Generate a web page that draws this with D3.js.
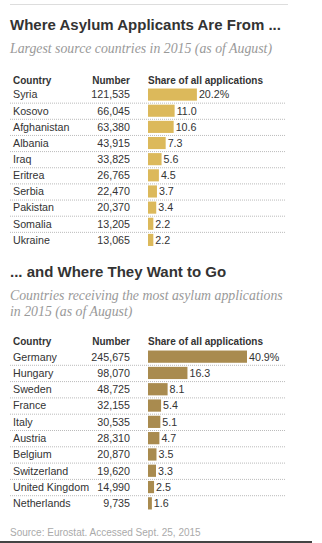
<!DOCTYPE html>
<html>
<head>
<meta charset="utf-8">
<script src="https://d3js.org/d3.v7.min.js"></script>
<style>
  body { margin: 0; background: #fff; }
  svg text { font-family: "Liberation Sans", Arial, sans-serif; }
  .title { font-weight: bold; font-size: 15px; fill: #333; }
  .sub { font-family: "Liberation Serif", Georgia, serif !important; font-style: italic; font-size: 13.8px; fill: #999; }
  .hdr { font-weight: bold; font-size: 10px; fill: #333; }
  .row { font-size: 10.7px; fill: #333; }
  .src { font-size: 10px; fill: #aaa; }
</style>
</head>
<body>
<div id="chart"></div>
<script>
// source countries
var fromCountries = ["Syria", "Kosovo", "Afghanistan", "Albania", "Iraq", "Eritrea", "Serbia", "Pakistan", "Somalia", "Ukraine"];
var fromNumbers = [121535, 66045, 63380, 43915, 33825, 26765, 22470, 20370, 13205, 13065];
var fromShares = [20.2, 11.0, 10.6, 7.3, 5.6, 4.5, 3.7, 3.4, 2.2, 2.2];

// destination countries
var toCountries = ["Germany", "Hungary", "Sweden", "France", "Italy", "Austria", "Belgium", "Switzerland", "United Kingdom", "Netherlands"];
var toNumbers = [245675, 98070, 48725, 32155, 30535, 28310, 20870, 19620, 14990, 9735];
var toShares = [40.9, 16.3, 8.1, 5.4, 5.1, 4.7, 3.5, 3.3, 2.5, 1.6];

var W = 322, H = 543;
var svg = d3.select("#chart").append("svg").attr("width", W).attr("height", H);

// shared bar scale, 40.9% -> ~99px
var x = d3.scaleLinear().domain([0, 40.9]).range([148, 247]);
var fmt = d3.format(",");

svg.append("line").attr("x1", 10).attr("x2", 288).attr("y1", 4.5).attr("y2", 4.5)
  .attr("stroke", "#ddd").attr("stroke-width", 1);

function table(opts) {
  var g = svg.append("g");
  g.append("text").attr("class", "title").attr("x", 10).attr("y", opts.titleY).text(opts.title);
  opts.sub.forEach(function(s, i) {
    g.append("text").attr("class", "sub").attr("x", 10).attr("y", opts.subY + i * 16).text(s);
  });
  g.append("text").attr("class", "hdr").attr("x", 13).attr("y", opts.hdrY).text("Country");
  g.append("text").attr("class", "hdr").attr("x", 130).attr("y", opts.hdrY).attr("text-anchor", "end").text("Number");
  g.append("text").attr("class", "hdr").attr("x", 148).attr("y", opts.hdrY).text("Share of all applications");

  var y = d3.scaleBand().domain(opts.countries)
    .range([opts.top, opts.top + opts.step * opts.countries.length]).paddingInner(0.25).paddingOuter(0.125);

  var rows = g.selectAll("g.r").data(opts.countries).enter().append("g").attr("class", "r");

  rows.filter(function(d, i) { return i < opts.countries.length - 1; })
    .append("line")
    .attr("x1", 10).attr("x2", 286)
    .attr("y1", function(d) { return y(d) + y.bandwidth() + y.step() * 0.125 + 0.5; })
    .attr("y2", function(d) { return y(d) + y.bandwidth() + y.step() * 0.125 + 0.5; })
    .attr("stroke", "#bbb").attr("stroke-dasharray", "1,1");

  var cy = function(d) { return y(d) + y.bandwidth() / 2; };

  rows.append("text").attr("class", "row").attr("x", 13).attr("y", cy).attr("dy", "0.36em").text(function(d) { return d; });
  rows.append("text").attr("class", "row").attr("x", 130).attr("y", cy).attr("dy", "0.36em")
    .attr("text-anchor", "end").text(function(d, i) { return fmt(opts.numbers[i]); });
  rows.append("rect")
    .attr("x", x(0)).attr("y", function(d) { return y(d); })
    .attr("width", function(d, i) { return x(opts.shares[i]) - x(0); })
    .attr("height", y.bandwidth())
    .attr("fill", opts.color);
  rows.append("text").attr("class", "row").attr("y", cy).attr("dy", "0.36em")
    .attr("x", function(d, i) { return x(opts.shares[i]) + 2; })
    .text(function(d, i) { return d3.format(".1f")(opts.shares[i]) + (i === 0 ? "%" : ""); });
}

table({
  title: "Where Asylum Applicants Are From ...",
  titleY: 30,
  sub: ["Largest source countries in 2015 (as of August)"],
  subY: 53,
  hdrY: 84,
  top: 86.5,
  step: 16.15,
  countries: fromCountries, numbers: fromNumbers, shares: fromShares,
  color: "#dcb95b"
});

table({
  title: "... and Where They Want to Go",
  titleY: 277,
  sub: ["Countries receiving the most asylum applications", "in 2015 (as of August)"],
  subY: 300,
  hdrY: 345,
  top: 348.5,
  step: 16.3,
  countries: toCountries, numbers: toNumbers, shares: toShares,
  color: "#a98b4f"
});

svg.append("text").attr("class", "src").attr("x", 10).attr("y", 536)
  .text("Source: Eurostat. Accessed Sept. 25, 2015");

svg.append("rect").attr("x", 0).attr("y", 541).attr("width", 312).attr("height", 2).attr("fill", "#444");
</script>
</body>
</html>
